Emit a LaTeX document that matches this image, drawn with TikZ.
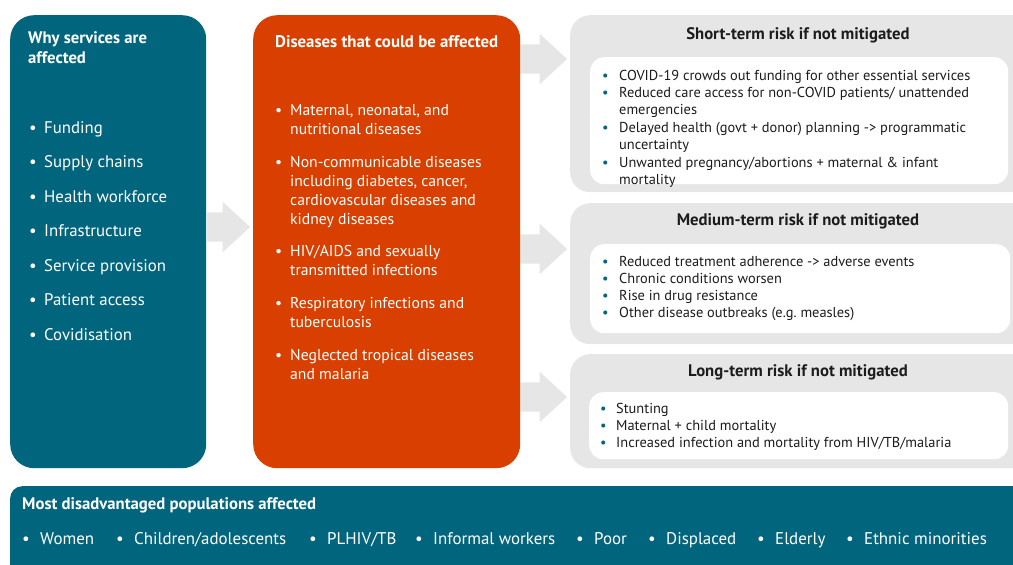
\documentclass[tikz,border=0pt]{standalone}
\usepackage{fontspec}
\setmainfont{PT Sans}
\usetikzlibrary{positioning, shapes.arrows, calc}

\definecolor{tealc}{HTML}{02657E}
\definecolor{orangec}{HTML}{D94000}
\definecolor{greyc}{HTML}{E6E6E6}
\definecolor{inkc}{HTML}{1C1C1C}

\newcommand{\stacked}[1]{\begin{tabular}[t]{@{}l@{}}#1\end{tabular}}

\tikzset{
  panel/.style={rounded corners=24pt, inner sep=0pt, anchor=north west},
  inbox/.style={fill=white, rounded corners=14pt, inner sep=0pt, anchor=north west},
  txt/.style={inner sep=0pt, anchor=base west},
  lefttxt/.style={txt, text=white, font=\fontsize{16.8}{20}\selectfont},
  distxt/.style={txt, text=white, font=\fontsize{15.7}{19}\selectfont},
  smalltxt/.style={txt, text=inkc, font=\fontsize{14.4}{17.4}\selectfont},
  bartxt/.style={txt, text=white, font=\fontsize{16.9}{20}\selectfont},
  blockarrow/.style={single arrow, fill=greyc, inner xsep=0pt, inner ysep=14.5pt, anchor=tail,
    minimum width=50pt, single arrow head extend=10.5pt, single arrow tip angle=85}
}

\begin{document}
\begin{tikzpicture}[x=1pt, y=-1pt]
\useasboundingbox (0,0) rectangle (1013,565);
\clip (0,0) rectangle (1013,565);

% block arrows
\node[blockarrow, minimum height=43pt] (arr1) at (207,227) {};
\node[blockarrow, minimum height=47pt] (arr2) at (520,59) {};
\node[blockarrow, minimum height=47pt] (arr3) at (520,249) {};
\node[blockarrow, minimum height=47pt] (arr4) at (520,397) {};

% panels
\node[panel, fill=tealc, minimum width=196pt, minimum height=453pt] (why) at (10,15) {};
\node[panel, fill=orangec, minimum width=267pt, minimum height=453pt] (dis) at (253,15) {};
\node[panel, fill=greyc, rounded corners=20pt, minimum width=470pt, minimum height=177pt] (short) at (570,15) {};
\node[panel, fill=greyc, rounded corners=20pt, minimum width=470pt, minimum height=141pt] (mid) at (570,203) {};
\node[panel, fill=greyc, rounded corners=20pt, minimum width=470pt, minimum height=114pt] (long) at (570,354) {};
\node[inbox, minimum width=418pt, minimum height=127pt] (shortin) at (590,57) {};
\node[inbox, minimum width=420pt, minimum height=89pt] (midin) at (590,244) {};
\node[inbox, minimum width=419pt, minimum height=67pt] (longin) at (589,392) {};
\node[panel, fill=tealc, rounded corners=12pt, minimum width=1030pt, minimum height=100pt] (pop) at (10,486) {};

% why services are affected
\node[lefttxt, font=\fontsize{16.7}{20}\selectfont\bfseries] (whytitle) at (28,43) {\stacked{Why services are\\affected}};
\foreach \t [count=\i from 0] in {Funding, Supply chains, Health workforce, Infrastructure,
    Service provision, Patient access, Covidisation}{
  \node[lefttxt] (wb\i) at (29,133+34.5*\i) {\textbullet};
  \node[lefttxt] (wi\i) at (44,133+34.5*\i) {\t};
}

% diseases
\node[distxt, font=\fontsize{16.8}{19}\selectfont\bfseries] (distitle) at (275,47) {Diseases that could be affected};
\foreach \y/\t [count=\i] in {115/{Maternal, neonatal, and\\nutritional diseases},
    167/{Non-communicable diseases\\including diabetes, cancer,\\cardiovascular diseases and\\kidney diseases},
    256/{HIV/AIDS and sexually\\transmitted infections},
    308/{Respiratory infections and\\tuberculosis},
    360/{Neglected tropical diseases\\and malaria}}{
  \node[distxt] (db\i) at (275,\y) {\textbullet};
  \node[distxt] (di\i) at (290,\y) {\stacked{\t}};
}

% risk panels
\node[smalltxt, anchor=base, font=\fontsize{16.7}{18}\selectfont\bfseries] (shorttitle) at (798,39) {Short-term risk if not mitigated};
\node[smalltxt, anchor=base, font=\fontsize{16.7}{18}\selectfont\bfseries] (midtitle) at (798,225) {Medium-term risk if not mitigated};
\node[smalltxt, anchor=base, font=\fontsize{16.7}{18}\selectfont\bfseries] (longtitle) at (798,376) {Long-term risk if not mitigated};

\foreach \y/\t [count=\i] in {80/{COVID-19 crowds out funding for other essential services},
    97/{Reduced care access for non-COVID patients/ unattended\\emergencies},
    132/{Delayed health (govt + donor) planning -> programmatic\\uncertainty},
    167/{Unwanted pregnancy/abortions + maternal \& infant\\mortality}}{
  \node[smalltxt, text=tealc] (sb\i) at (602,\y) {\textbullet};
  \node[smalltxt] (si\i) at (619,\y) {\stacked{\t}};
}
\foreach \y/\t [count=\i] in {266/{Reduced treatment adherence -> adverse events},
    283/{Chronic conditions worsen}, 300/{Rise in drug resistance},
    317/{Other disease outbreaks (e.g.\ measles)}}{
  \node[smalltxt, text=tealc] (mb\i) at (602,\y) {\textbullet};
  \node[smalltxt] (mi\i) at (619,\y) {\t};
}
\foreach \y/\t [count=\i] in {413/{Stunting}, 430/{Maternal + child mortality},
    447/{Increased infection and mortality from HIV/TB/malaria}}{
  \node[smalltxt, text=tealc] (lb\i) at (600,\y) {\textbullet};
  \node[smalltxt] (li\i) at (616,\y) {\t};
}

% populations
\node[bartxt, font=\fontsize{16.7}{20}\selectfont\bfseries] (poptitle) at (22,509) {Most disadvantaged populations affected};
\foreach \x/\t [count=\i] in {26/{Women}, 120/{Children/adolescents}, 313/{PLHIV/TB},
    419/{Informal workers}, 580/{Poor}, 652/{Displaced}, 761/{Elderly}, 850/{Ethnic minorities}}{
  \node[bartxt] (pb\i) at (\x-4,544) {\textbullet};
  \node[bartxt] (pi\i) at (\x+14,544) {\t};
}
\end{tikzpicture}
\end{document}
